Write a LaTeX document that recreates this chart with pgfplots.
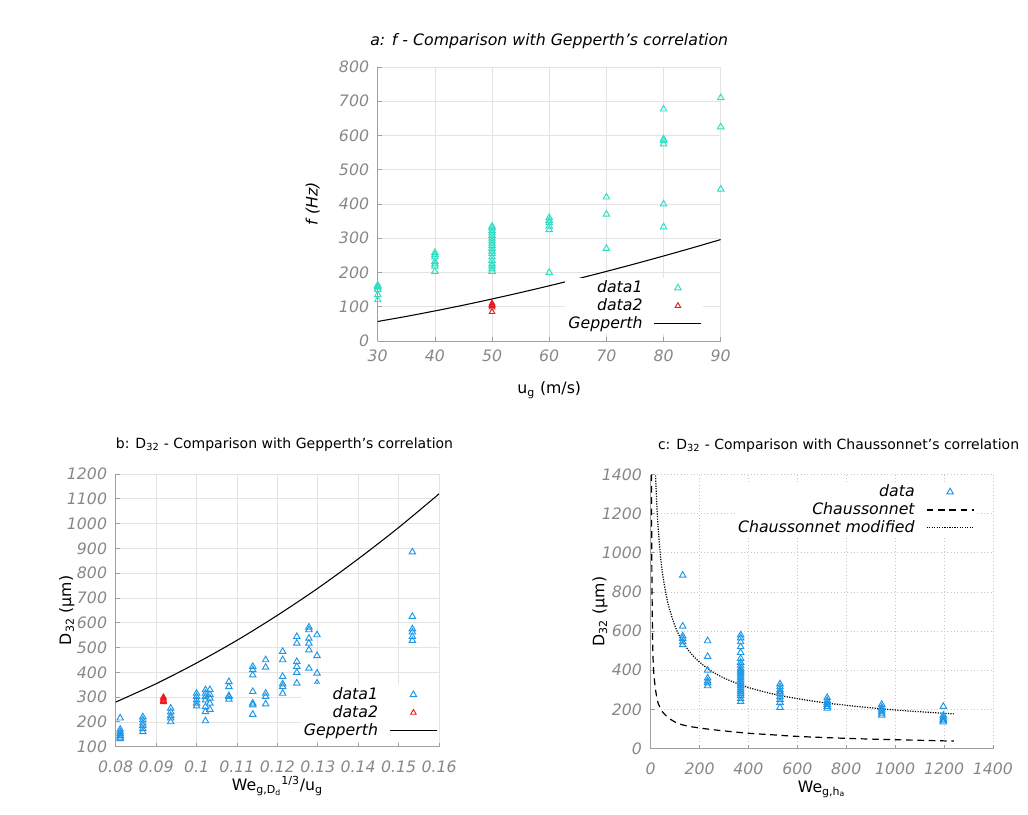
\documentclass[border=0pt]{standalone}
\usepackage{fontspec}
\setmainfont{DejaVu Sans}
\usepackage{pgfplots}
\pgfplotsset{compat=1.18}
\definecolor{turq}{RGB}{45,222,195}
\definecolor{dblue}{RGB}{30,150,230}
\definecolor{dred}{RGB}{235,25,25}
\definecolor{tickgray}{RGB}{135,135,135}
\newcommand\fs{\fontsize{11.8}{14}\selectfont}
\newcommand\fst{\fontsize{10.5}{13}\selectfont}
\pgfplotsset{
 common/.style={
  scale only axis,
  axis lines*=left, axis line style={-, draw=tickgray!80, line width=0.7pt},
  tick align=inside, major tick length=3pt,
  tick style={draw=tickgray!80, line width=0.6pt},
  grid=major, grid style={gray!22, line width=0.5pt},
  ticklabel style={font=\fs\itshape, text=tickgray},
  xticklabel style={yshift=-3pt},
  yticklabel style={xshift=-3pt},
  /pgf/number format/assume math mode=true,
  /pgf/number format/1000 sep={},
  label style={font=\fs},
  title style={font=\fs, anchor=center},
  xlabel style={anchor=center},
  ylabel style={anchor=center},
  legend style={draw=none, fill=white, font=\fs\itshape, inner sep=1pt, nodes={inner sep=1.5pt},
    /tikz/every odd column/.append style={column sep=7pt}},
  legend cell align=right, legend plot pos=right,
  legend image code/.code={\draw[##1, mark=none] (0cm,0cm) -- (1.24cm,0cm);},
 },
 tri/.style={only marks, mark=triangle, mark size=2.8pt, mark options={line width=0.7pt, solid},
  legend image code/.code={\draw[##1] plot coordinates {(0.62cm,0cm)};}},
}
\begin{document}
\begin{tikzpicture}
\path[use as bounding box] (0,0) rectangle (771pt,610.5pt);
% ---------------- panel a
\begin{axis}[common, at={(283.3pt,354.75pt)}, anchor=south west,
  width=257.25pt, height=205.5pt,
  xmin=30, xmax=90, ymin=0, ymax=800,
  xtick={30,40,...,90}, ytick={0,100,...,800},
  title={\itshape a: f - Comparison with Gepperth's correlation},
  title style={at={(axis description cs:0.5,1.065)}},
  xlabel={u\textsubscript{g} (m/s)}, xlabel style={at={(axis description cs:0.5,-0.18)}},
  ylabel={\itshape f (Hz)}, ylabel style={at={(axis description cs:-0.19,0.5)}},
  legend style={at={(0.95,0.024)}, anchor=south east}]
\addplot[tri, turq] coordinates {
(30,120) (30,135) (30,150) (30,155) (30,158) (30,160) (30,163)
(40,203) (40,218) (40,225) (40,232) (40,245) (40,252) (40,258)
(50,203) (50,210) (50,218) (50,225) (50,235) (50,245) (50,255) (50,262) (50,270)
(50,278) (50,285) (50,292) (50,300) (50,308) (50,315) (50,322) (50,330) (50,335)
(60,200) (60,325) (60,335) (60,345) (60,352) (60,360)
(70,270) (70,370) (70,420)
(80,333) (80,400) (80,575) (80,585) (80,590) (80,677)
(90,443) (90,625) (90,710)};
\addlegendentry{data1}
\addplot[tri, dred, mark size=2.4pt] coordinates {(50,85) (50,98) (50,103) (50,106) (50,110)};
\addlegendentry{data2}
\addplot[black, line width=0.8pt, smooth] coordinates {
(30,57) (35,71.8) (40,87.8) (45,104.7) (50,122.7) (55,141.5) (60,161.2)
(65,181.8) (70,203.2) (75,225.3) (80,248.2) (85,271.8) (90,296.2)};
\addlegendentry{Gepperth}
\end{axis}
% ---------------- panel b
\begin{axis}[common, at={(86.8pt,50.5pt)}, anchor=south west,
  width=242.5pt, height=204.5pt,
  xmin=0.08, xmax=0.16, ymin=100, ymax=1200,
  xtick={0.08,0.09,...,0.165}, ytick={100,200,...,1200},
  scaled x ticks=false,
  xticklabel style={/pgf/number format/fixed, /pgf/number format/precision=2, yshift=-4pt},
  title={b: D\textsubscript{32} - Comparison with Gepperth's correlation},
  title style={font=\fst, at={(axis description cs:0.522,1.078)}},
  xlabel={We\textsubscript{g,D\textsubscript{d}}\textsuperscript{1/3}/u\textsubscript{g}},
  xlabel style={at={(axis description cs:0.5,-0.145)}},
  ylabel={D\textsubscript{32} (µm)}, ylabel style={at={(axis description cs:-0.151,0.5)}},
  legend style={at={(1.0,0.02)}, anchor=south east}]
\addplot[tri, dblue] coordinates {
(0.0811,215) (0.0811,170) (0.0811,160) (0.0811,152) (0.0811,145) (0.0811,138) (0.0811,132)
(0.0867,220) (0.0867,208) (0.0867,195) (0.0867,185) (0.0867,172) (0.0867,160)
(0.0936,255) (0.0936,240) (0.0936,225) (0.0936,215) (0.0936,200)
(0.1000,315) (0.1000,302) (0.1000,288) (0.1000,275) (0.1000,264)
(0.1022,329) (0.1022,315) (0.1022,302) (0.1022,288) (0.1022,261) (0.1022,241) (0.1022,204)
(0.1033,330) (0.1033,310) (0.1033,295) (0.1033,275) (0.1033,250)
(0.1080,362) (0.1080,342) (0.1080,305) (0.1080,302) (0.1080,291)
(0.1139,423) (0.1139,410) (0.1139,389) (0.1139,322) (0.1139,275) (0.1139,268) (0.1139,230)
(0.1171,450) (0.1171,420) (0.1171,315) (0.1171,302) (0.1171,272)
(0.1213,484) (0.1213,450) (0.1213,383) (0.1213,353) (0.1213,342) (0.1213,315)
(0.1248,544) (0.1248,517) (0.1248,443) (0.1248,423) (0.1248,399) (0.1248,356)
(0.1278,582) (0.1278,571) (0.1278,537) (0.1278,517) (0.1278,490) (0.1278,416)
(0.1298,551) (0.1298,467) (0.1298,396) (0.1298,356) (0.1298,342) (0.1298,315)
(0.1534,885) (0.1534,625) (0.1534,575) (0.1534,562) (0.1534,544) (0.1534,528)};
\addlegendentry{data1}
\addplot[tri, dred, mark size=2.4pt] coordinates {(0.0918,300) (0.0918,295) (0.0918,290) (0.0918,285) (0.0918,280)};
\addlegendentry{data2}
\addplot[black, line width=0.8pt, smooth] coordinates {
(0.08,280) (0.09,354) (0.10,437.5) (0.11,529) (0.12,630) (0.13,739) (0.14,857.5) (0.15,984) (0.16,1120)};
\addlegendentry{Gepperth}
\end{axis}
% ---------------- panel c
\begin{axis}[common, at={(488pt,49.1pt)}, anchor=south west,
  width=256.7pt, height=205.5pt,
  xmin=0, xmax=1400, ymin=0, ymax=1400,
  xtick={0,200,...,1400}, ytick={0,200,...,1400},
  xticklabel style={yshift=-4pt},
  grid style={gray!45, dotted, line width=0.6pt},
  title={c: D\textsubscript{32} - Comparison with Chaussonnet's correlation},
  title style={font=\fst, at={(axis description cs:0.549,1.078)}},
  xlabel={We\textsubscript{g,h\textsubscript{a}}},
  xlabel style={at={(axis description cs:0.5,-0.15)}},
  ylabel={D\textsubscript{32} (µm)}, ylabel style={at={(axis description cs:-0.148,0.5)}},
  legend style={at={(0.95,0.975)}, anchor=north east}]
\addplot[tri, dblue] coordinates {
(131,885) (131,625) (131,575) (131,562) (131,545) (131,530)
(233,550) (233,470) (233,400) (233,360) (233,345) (233,335) (233,320)
(368,580) (368,565) (368,545) (368,520) (368,490) (368,460) (368,440) (368,425)
(368,410) (368,400) (368,390) (368,380) (368,370) (368,360) (368,350) (368,340)
(368,330) (368,320) (368,310) (368,300) (368,290) (368,280) (368,270) (368,255) (368,240)
(529,330) (529,315) (529,300) (529,290) (529,280) (529,265) (529,250) (529,235) (529,210)
(722,260) (722,245) (722,235) (722,225) (722,215) (722,205)
(945,225) (945,210) (945,200) (945,190) (945,180) (945,170)
(1197,215) (1197,170) (1197,160) (1197,150) (1197,145) (1197,140) (1197,135)};
\addlegendentry{data}
\addplot[black, line width=0.9pt, dash pattern=on 5pt off 3.5pt, smooth] coordinates {
(3,1400) (5,900) (8,550) (12,400) (20,300) (31,230) (50,185) (80,150) (113,128)
(150,115) (200,105) (250,97) (300,90) (400,78) (500,70) (600,62) (800,52) (1000,45) (1240,38)};
\addlegendentry{Chaussonnet}
\addplot[black, line width=0.9pt, densely dotted, smooth] coordinates {
(20,1395) (25,1248) (30,1139) (40,986) (50,882) (70,746) (100,624) (130,547) (170,478)
(230,411) (300,360) (400,312) (500,279) (600,255) (700,236) (800,221) (900,208)
(1000,197) (1100,188) (1240,177)};
\addlegendentry{Chaussonnet modified}
\end{axis}
\end{tikzpicture}
\end{document}
